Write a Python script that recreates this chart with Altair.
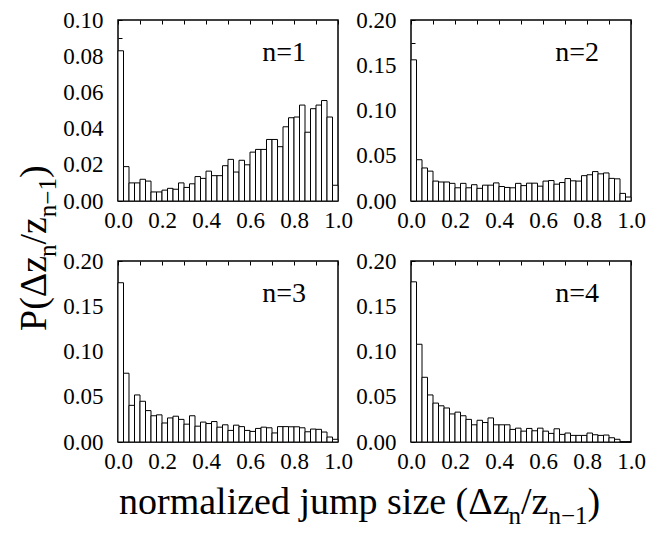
import altair as alt
import pandas as pd

# ---------------- data ----------------
n_bins = 40
bin_width = 0.025

p_n1 = [0.083, 0.019, 0.010, 0.010, 0.012, 0.011, 0.005, 0.005, 0.006, 0.007,
        0.0065, 0.010, 0.0075, 0.0095, 0.0135, 0.0125, 0.0165, 0.014, 0.014, 0.0195,
        0.023, 0.016, 0.0225, 0.020, 0.027, 0.0285, 0.0285, 0.034, 0.034, 0.030,
        0.041, 0.046, 0.0464, 0.053, 0.038, 0.051, 0.053, 0.0555, 0.0464, 0.0087]
p_n2 = [0.156, 0.0456, 0.0365, 0.033, 0.022, 0.021, 0.021, 0.0195, 0.0146, 0.0195,
        0.0146, 0.018, 0.014, 0.0175, 0.0175, 0.020, 0.016, 0.015, 0.0146, 0.0195,
        0.017, 0.0197, 0.0197, 0.0164, 0.022, 0.0226, 0.0186, 0.0204, 0.0248, 0.0223,
        0.022, 0.028, 0.029, 0.0325, 0.030, 0.031, 0.025, 0.0245, 0.0084, 0.0044]
p_n3 = [0.176, 0.076, 0.0405, 0.052, 0.045, 0.0347, 0.029, 0.030, 0.021, 0.0266,
        0.0285, 0.025, 0.0197, 0.029, 0.0175, 0.022, 0.0204, 0.0226, 0.0164, 0.019,
        0.0128, 0.0186, 0.017, 0.0128, 0.0117, 0.015, 0.0164, 0.0157, 0.010, 0.017,
        0.017, 0.0168, 0.0168, 0.0157, 0.0113, 0.0143, 0.014, 0.011, 0.0055, 0.003]
p_n4 = [0.177, 0.108, 0.0715, 0.052, 0.043, 0.040, 0.0376, 0.031, 0.033, 0.029,
        0.025, 0.019, 0.024, 0.0215, 0.0266, 0.019, 0.019, 0.019, 0.0139, 0.0153,
        0.012, 0.015, 0.0124, 0.0153, 0.012, 0.0095, 0.0146, 0.0084, 0.0099, 0.0073,
        0.0073, 0.0073, 0.0099, 0.008, 0.0073, 0.0077, 0.0047, 0.003, 0.0, 0.0]

panel_labels = ["n=1", "n=2", "n=3", "n=4"]
y_max = [0.10, 0.20, 0.20, 0.20]
y_ticks_small = [0.00, 0.01, 0.02, 0.03, 0.04, 0.05, 0.06, 0.07, 0.08, 0.09, 0.10]
y_ticks_large = [0.00, 0.025, 0.05, 0.075, 0.10, 0.125, 0.15, 0.175, 0.20]
y_label_mult = [50, 20, 20, 20]          # labels every 0.02 / 0.05
x_label_values = [0.0, 0.2, 0.4, 0.6, 0.8, 1.0]
x_top_ticks = [0.0, 0.1, 0.2, 0.3, 0.4, 0.5, 0.6, 0.7, 0.8, 0.9, 1.0]

x_title_pieces = [("normalized jump size (\u0394z", "main"), ("n", "sub"), ("/z", "main"),
                  ("n\u22121", "sub"), (")", "main")]
y_title_pieces = [("P(\u0394z", "main"), ("n", "sub"), ("/z", "main"),
                  ("n\u22121", "sub"), (")", "main")]

# ---------------- style ----------------
FONT = "Liberation Serif"
TICK_FONT_SIZE = 23
LABEL_FONT_SIZE = 28
TITLE_SIZE = 38
SUB_SIZE = 25
SUB_SHIFT = 10
PANEL_W = 220
PANEL_H = 181

# Times-like advance widths (per 1000 em) to chain title pieces
TIMES_W = {'n': 500, 'o': 500, 'r': 333, 'm': 778, 'a': 444, 'l': 278, 'i': 278,
           'z': 444, 'e': 444, 'd': 500, ' ': 250, 'j': 278, 'u': 500, 'p': 500,
           's': 389, '(': 333, ')': 333, '\u0394': 612, '/': 278, '\u2212': 564,
           '1': 500, 'P': 556}


def text_width(s, size):
    return sum(TIMES_W.get(c, 500) for c in s) * size / 1000.0


one_row = pd.DataFrame({"k": [0]})


def title_layers(pieces, x0, y0, rotated):
    layers = []
    pos = 0.0
    for txt, kind in pieces:
        size = TITLE_SIZE if kind == "main" else SUB_SIZE
        shift = 0 if kind == "main" else SUB_SHIFT
        if rotated:
            xv, yv = x0 + shift, y0 - pos
            mk = alt.Chart(one_row).mark_text(text=txt, font=FONT, fontSize=size, angle=270,
                                              align="left", baseline="alphabetic", color="black")
        else:
            xv, yv = x0 + pos, y0 + shift
            mk = alt.Chart(one_row).mark_text(text=txt, font=FONT, fontSize=size,
                                              align="left", baseline="alphabetic", color="black")
        layers.append(mk.encode(x=alt.value(xv), y=alt.value(yv)))
        pos += text_width(txt, size)
    return layers


def panel(values, idx):
    df = pd.DataFrame({
        "x0": [i * bin_width for i in range(n_bins)],
        "x1": [(i + 1) * bin_width for i in range(n_bins)],
        "p": values,
    })
    ymax = y_max[idx]
    ticks = y_ticks_small if idx == 0 else y_ticks_large
    mult = y_label_mult[idx]
    label_expr = (f"abs(datum.value*{mult} - round(datum.value*{mult})) < 0.001 "
                  f"? format(datum.value, '.2f') : ''")
    xscale = alt.Scale(domain=[0, 1], nice=False, zero=False)
    bars = alt.Chart(df).mark_bar(fill="white", stroke="black", strokeWidth=1).encode(
        x=alt.X("x0:Q", scale=xscale, title=None,
                axis=alt.Axis(values=x_label_values, format=".1f", ticks=False, domain=False,
                              grid=False, labelPadding=8, labelFont=FONT,
                              labelFontSize=TICK_FONT_SIZE, labelColor="black",
                              labelOverlap=False, labelFlush=False)),
        x2="x1:Q",
        y=alt.Y("p:Q", scale=alt.Scale(domain=[0, ymax], nice=False), title=None,
                axis=alt.Axis(values=ticks, labelExpr=label_expr, tickSize=4, offset=-4,
                              domain=False, grid=False, tickColor="black", tickWidth=1,
                              labelPadding=15, labelFont=FONT, labelFontSize=TICK_FONT_SIZE,
                              labelColor="black", labelOverlap=False, labelFlush=False)),
        y2=alt.datum(0),
    )
    top_axis = alt.Chart(pd.DataFrame({"t": x_top_ticks})).mark_rule(opacity=0).encode(
        x=alt.X("t:Q", scale=xscale, title=None,
                axis=alt.Axis(orient="top", values=x_top_ticks, labels=False, domain=False,
                              grid=False, tickSize=4, offset=-4, tickColor="black",
                              tickWidth=1)),
    )
    lab = alt.Chart(pd.DataFrame({"t": [panel_labels[idx]]})).mark_text(
        font=FONT, fontSize=LABEL_FONT_SIZE, align="right", baseline="alphabetic",
        color="black").encode(text="t:N", x=alt.value(PANEL_W - 32), y=alt.value(41))
    layers = [bars, top_axis, lab]
    if idx == 2:
        layers += title_layers(x_title_pieces, 1, 253, rotated=False)
        layers += title_layers(y_title_pieces, -72, 70, rotated=True)
    return alt.layer(*layers).resolve_axis(x="independent").properties(
        width=PANEL_W, height=PANEL_H)


panels = [panel(v, i) for i, v in enumerate([p_n1, p_n2, p_n3, p_n4])]

chart = alt.concat(*panels, columns=2, spacing={"row": 60, "column": 73},
                   bounds="flush").properties(
    padding={"top": 0, "left": 7, "right": 5, "bottom": 0},
    background="white",
).configure_view(stroke="black", strokeWidth=1.5, fill="white").configure_axis(
    labelFont=FONT, labelColor="black")

chart.save("out.html", embed_options={"renderer": "svg", "actions": False})
